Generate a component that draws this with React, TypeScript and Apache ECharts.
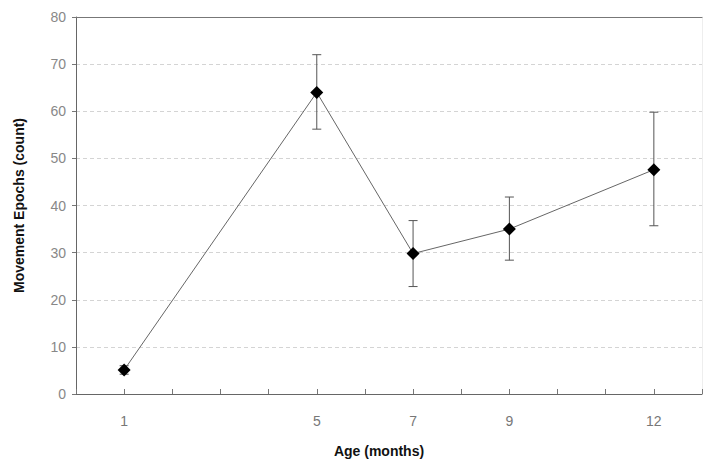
import React, { useEffect, useRef } from "react";
import * as echarts from "echarts";

const ages = [1, 5, 7, 9, 12];
const means = [5.1, 64, 29.8, 35, 47.6];
const errLow = [4.2, 56.2, 22.8, 28.4, 35.7];
const errHigh = [6.0, 72.0, 36.8, 41.8, 59.8];
const xTickLabels = [1, 5, 7, 9, 12];
const yTicks = [0, 10, 20, 30, 40, 50, 60, 70, 80];

const FONT = "Liberation Sans, Arial, sans-serif";

export default function App() {
  const ref = useRef<HTMLDivElement>(null);
  useEffect(() => {
    if (!ref.current) return;
    const chart = echarts.init(ref.current, null, { renderer: "svg" });
    const lineData = ages.map((a, i) => [a, means[i]]);
    const errData = ages.map((a, i) => [a, errLow[i], errHigh[i]]);
    chart.setOption({
      animation: false,
      backgroundColor: "#fff",
      grid: { left: 76, right: 10, top: 17, bottom: 76 },
      xAxis: [
        {
          type: "value",
          min: 0,
          max: 13,
          interval: 1,
          name: "Age (months)",
          nameLocation: "middle",
          nameGap: 50,
          nameTextStyle: { fontFamily: FONT, fontSize: 14, fontWeight: "bold", color: "#111", padding: [0, 20, 0, 0] },
          axisLine: { show: true, onZero: false, lineStyle: { color: "#666", width: 1 } },
          axisTick: { show: true, inside: true, length: 5, lineStyle: { color: "#777" } },
          axisLabel: {
            margin: 20,
            fontFamily: FONT,
            fontSize: 14,
            color: "#777",
            formatter: (v: number) => (xTickLabels.includes(v) ? String(v) : ""),
          },
          splitLine: { show: false },
        },
        {
          type: "value",
          position: "top",
          min: 0,
          max: 13,
          axisLine: { show: true, onZero: false, lineStyle: { color: "#777", width: 1 } },
          axisTick: { show: false },
          axisLabel: { show: false },
          splitLine: { show: false },
        },
      ],
      yAxis: [
        {
          type: "value",
          min: yTicks[0],
          max: yTicks[yTicks.length - 1],
          interval: 10,
          name: "Movement Epochs (count)",
          nameLocation: "middle",
          nameGap: 50,
          nameTextStyle: { fontFamily: FONT, fontSize: 14, fontWeight: "bold", color: "#111" },
          axisLine: { show: true, onZero: false, lineStyle: { color: "#666", width: 1 } },
          axisTick: { show: true, length: 4, lineStyle: { color: "#777" } },
          axisLabel: { margin: 10, fontFamily: FONT, fontSize: 14, color: "#888" },
          splitLine: { show: true, lineStyle: { color: "#d4d4d4", type: [4, 3], width: 1 } },
        },
        {
          type: "value",
          position: "right",
          min: 0,
          max: 80,
          axisLine: { show: true, onZero: false, lineStyle: { color: "#eee", width: 1 } },
          axisTick: { show: false },
          axisLabel: { show: false },
          splitLine: { show: false },
        },
      ],
      series: [
        {
          type: "custom",
          data: errData,
          z: 2,
          renderItem: (params: any, api: any) => {
            const x = api.value(0);
            const lo = api.coord([x, api.value(1)]);
            const hi = api.coord([x, api.value(2)]);
            const w = 4.5;
            const style = { stroke: "#555", lineWidth: 1 };
            return {
              type: "group",
              children: [
                { type: "line", shape: { x1: lo[0], y1: lo[1], x2: hi[0], y2: hi[1] }, style },
                { type: "line", shape: { x1: lo[0] - w, y1: lo[1], x2: lo[0] + w, y2: lo[1] }, style },
                { type: "line", shape: { x1: hi[0] - w, y1: hi[1], x2: hi[0] + w, y2: hi[1] }, style },
              ],
            };
          },
        },
        {
          type: "line",
          data: lineData,
          z: 3,
          symbol: "diamond",
          symbolSize: 13,
          lineStyle: { color: "#666", width: 1 },
          itemStyle: { color: "#000" },
        },
      ],
    });
    return () => chart.dispose();
  }, []);
  return <div ref={ref} style={{ position: "absolute", left: 0, top: 0, width: 712, height: 470 }} />;
}
